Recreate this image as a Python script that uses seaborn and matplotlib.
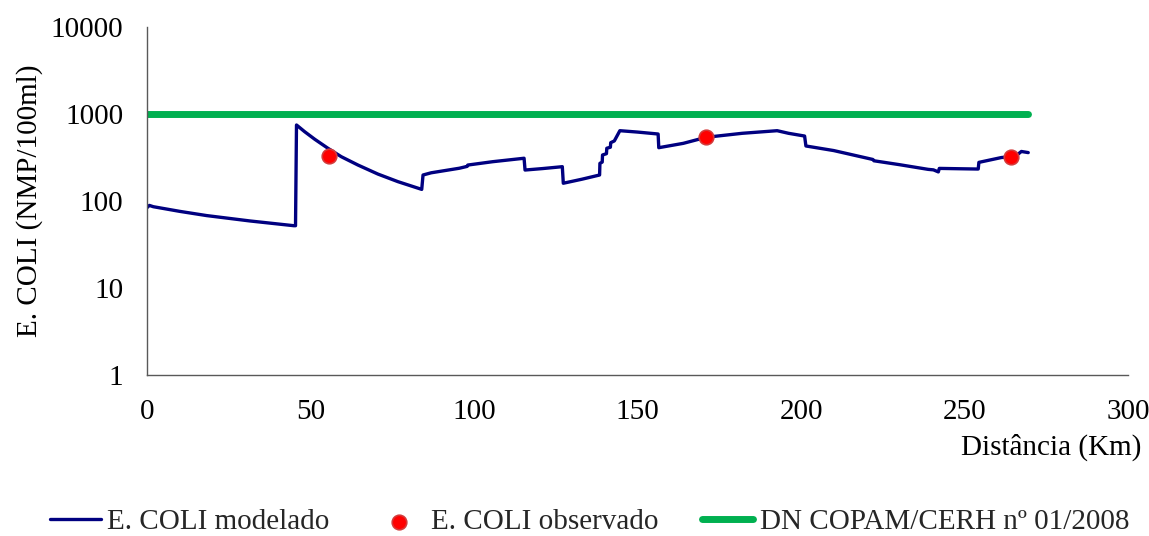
import matplotlib
matplotlib.use("Agg")
import matplotlib.pyplot as plt
import seaborn as sns
import pandas as pd

# Modelled E. coli profile along the river (km, NMP/100ml)
dist_model = [0.0, 0.7, 1.9, 10.0, 18.2, 31.4, 44.9, 45.4,
              45.7, 48.2, 51.3, 55.3, 59.4, 64.5, 70.6, 76.7, 84.0,
              84.4, 86.9, 95.5, 97.9, 98.1, 105.7, 115.3,
              115.6, 121.0, 127.0,
              127.3, 133.0, 138.4,
              138.5, 139.2, 139.3, 140.5, 140.6, 141.7, 141.8, 142.9, 144.6,
              150.0, 156.3,
              156.5, 164.0, 171.0, 182.0, 192.7, 196.2, 201.1,
              201.5, 210.0, 222.0, 222.3, 230.0, 238.9, 240.5, 242.0,
              242.3, 248.0, 254.2,
              254.4, 261.3, 264.1, 266.4, 267.4, 269.5]
ecoli_model = [84, 89, 86, 76, 68, 59, 52, 52,
               748, 626, 512, 404, 323, 259, 204, 167, 136,
               199, 211, 238, 250, 259, 283, 310,
               227, 236, 248,
               160, 178, 199,
               271, 280, 338, 350, 404, 415, 468, 490, 643,
               620, 589,
               410, 460, 540, 600, 643, 600, 558,
               429, 380, 300, 290, 262, 231, 228, 216,
               237, 235, 233,
               278, 316, 323, 346, 371, 360]

# Observed samples
dist_obs = [55.6, 171.0, 264.1]
ecoli_obs = [332, 540, 321]

# DN COPAM/CERH nº 01/2008 limit
dist_limit = [0.0, 269.5]
ecoli_limit = [1000, 1000]

x_ticks = [0, 50, 100, 150, 200, 250, 300]
y_ticks = [1, 10, 100, 1000, 10000]

sns.set_theme(style="white")
plt.rcParams["font.family"] = ["Liberation Serif", "DejaVu Serif"]

df_model = pd.DataFrame({"dist": dist_model, "ecoli": ecoli_model})
df_obs = pd.DataFrame({"dist": dist_obs, "ecoli": ecoli_obs})
df_limit = pd.DataFrame({"dist": dist_limit, "ecoli": ecoli_limit})

fig = plt.figure(figsize=(11.49, 5.36), dpi=100)
ax = fig.add_axes([0.128, 0.3004, 0.8537, 0.6492])

sns.lineplot(data=df_model, x="dist", y="ecoli", ax=ax, estimator=None,
             sort=False, color="#000080", linewidth=2.4,
             label="E. COLI modelado")
sns.scatterplot(data=df_obs, x="dist", y="ecoli", ax=ax, color="#FF0000",
                edgecolor="#D43A3A", linewidth=1.2, s=110, zorder=5,
                label="E. COLI observado")
sns.lineplot(data=df_limit, x="dist", y="ecoli", ax=ax, estimator=None,
             sort=False, color="#00B050", linewidth=5,
             solid_capstyle="round", label="DN COPAM/CERH nº 01/2008")

ax.set_yscale("log")
ax.set_xlim(0, 300)
ax.set_ylim(1, 10000)
ax.set_xticks(x_ticks)
ax.set_xticklabels([str(v) for v in x_ticks])
ax.set_yticks(y_ticks)
ax.set_yticklabels([str(v) for v in y_ticks])
ax.minorticks_off()
ax.tick_params(axis="both", length=0, labelsize=21, colors="black")
ax.tick_params(axis="x", pad=17)
ax.tick_params(axis="y", pad=17)

for side in ("top", "right"):
    ax.spines[side].set_visible(False)
for side in ("left", "bottom"):
    ax.spines[side].set_color("#595959")
    ax.spines[side].set_linewidth(1.0)

ax.set_xlabel("")
ax.set_ylabel("E. COLI (NMP/100ml)", fontsize=21, color="black", labelpad=6)
fig.text(0.9935, 0.165, "Distância (Km)", ha="right", va="center",
         fontsize=21, color="black")

handles, labels = ax.get_legend_handles_labels()
ax.legend_.remove()
fig.legend(handles, labels, loc="center", bbox_to_anchor=(0.513, 0.026),
           ncol=3, frameon=False, fontsize=21, handlelength=1.75,
           handletextpad=0.22, columnspacing=1.5, borderaxespad=0)

fig.savefig("out.png", dpi=100)
